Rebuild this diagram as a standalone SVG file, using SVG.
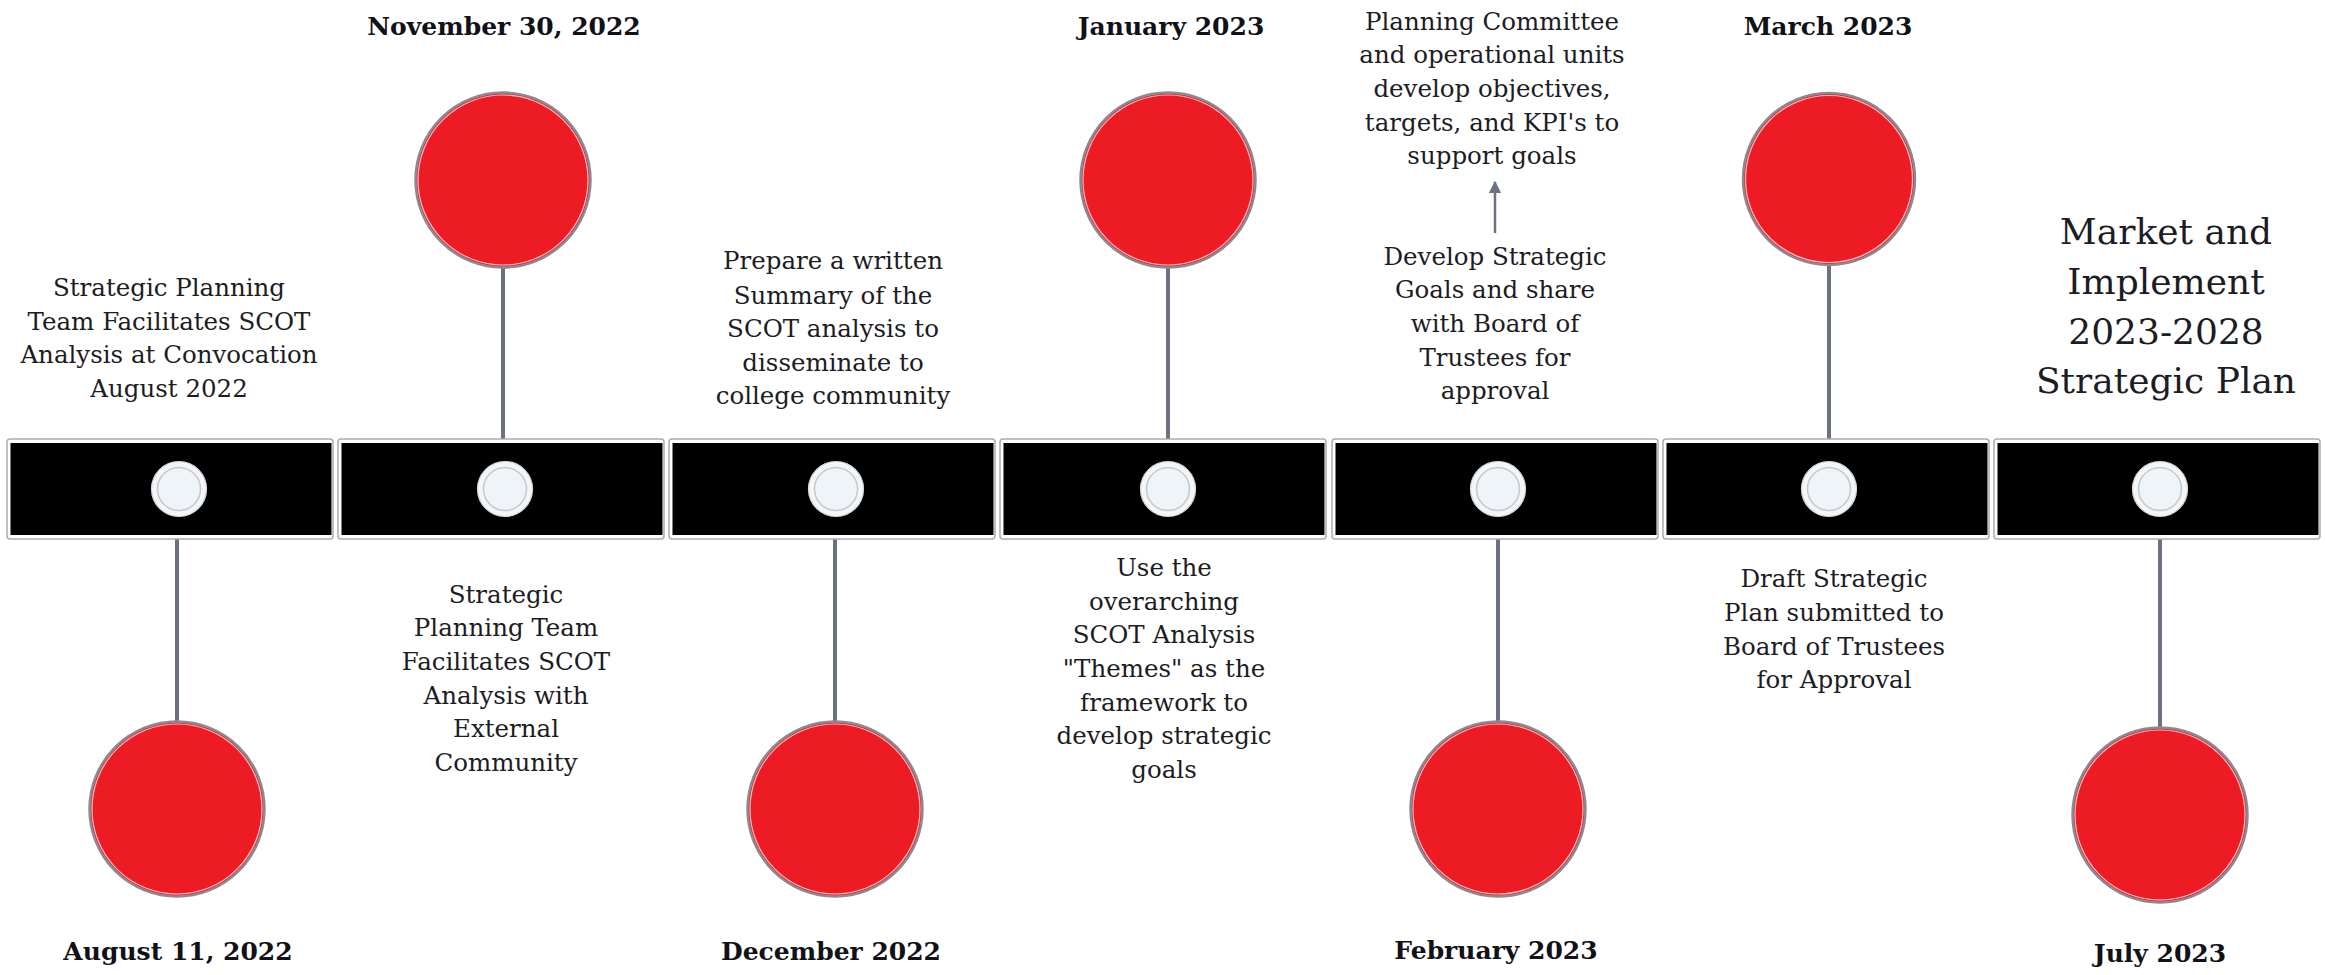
<svg xmlns="http://www.w3.org/2000/svg" width="2325" height="975" viewBox="0 0 2325 975">
<style>
.bg{fill:#ffffff}
.box{fill:#ffffff;stroke:#a8acb2;stroke-width:1.5}
.bar{fill:#000000}
.dotO{fill:#f3f5f7;stroke:#d4d6da;stroke-width:1.2}
.dotI{fill:#eef4f8;stroke:#c4c8ce;stroke-width:1.5}
.red{fill:#ed1c24;stroke:#878b94;stroke-width:2.5}
.redI{fill:none;stroke:#ffffff;stroke-width:1.2;stroke-opacity:0.7}
.stem{stroke:#6b7183;stroke-width:4;fill:none}
.arr{stroke:#6b7183;stroke-width:2.5;fill:none}
.t{font-family:"DejaVu Serif","Liberation Serif",serif;font-size:24.5px;fill:#1c1c24;text-anchor:middle}
.big{font-size:36px}
.d{font-family:"DejaVu Serif","Liberation Serif",serif;font-size:25px;font-weight:bold;fill:#111118;text-anchor:middle}
</style>
<defs>
<marker id="ah" viewBox="0 0 10 10" refX="9" refY="5" markerWidth="5" markerHeight="5" orient="auto" markerUnits="strokeWidth">
<path d="M0,0 L10,5 L0,10 z" fill="#6b7183"/>
</marker>
</defs>
<rect class="bg" x="0" y="0" width="2325" height="975"/>

<g id="connectors">
<line class="stem" x1="177" y1="539" x2="177" y2="721"/>
<line class="stem" x1="503" y1="268" x2="503" y2="439"/>
<line class="stem" x1="835" y1="539" x2="835" y2="722"/>
<line class="stem" x1="1168" y1="268" x2="1168" y2="439"/>
<line class="stem" x1="1498" y1="539" x2="1498" y2="722"/>
<line class="stem" x1="1829" y1="264" x2="1829" y2="439"/>
<line class="stem" x1="2160" y1="539" x2="2160" y2="727"/>
<line class="arr" x1="1495" y1="233" x2="1495" y2="182" marker-end="url(#ah)"/>
</g>

<g id="timeline-bar">
<g id="seg1"><rect class="box" x="7" y="439" width="326" height="100" rx="3"/><rect class="bar" x="10.5" y="443" width="321" height="92"/><circle class="dotO" cx="179" cy="489" r="27.5"/><circle class="dotI" cx="179" cy="489" r="21.5"/></g>
<g id="seg2"><rect class="box" x="338" y="439" width="326" height="100" rx="3"/><rect class="bar" x="341.5" y="443" width="321" height="92"/><circle class="dotO" cx="505" cy="489" r="27.5"/><circle class="dotI" cx="505" cy="489" r="21.5"/></g>
<g id="seg3"><rect class="box" x="669" y="439" width="326" height="100" rx="3"/><rect class="bar" x="672.5" y="443" width="321" height="92"/><circle class="dotO" cx="836" cy="489" r="27.5"/><circle class="dotI" cx="836" cy="489" r="21.5"/></g>
<g id="seg4"><rect class="box" x="1000" y="439" width="326" height="100" rx="3"/><rect class="bar" x="1003.5" y="443" width="321" height="92"/><circle class="dotO" cx="1168" cy="489" r="27.5"/><circle class="dotI" cx="1168" cy="489" r="21.5"/></g>
<g id="seg5"><rect class="box" x="1332" y="439" width="326" height="100" rx="3"/><rect class="bar" x="1335.5" y="443" width="321" height="92"/><circle class="dotO" cx="1498" cy="489" r="27.5"/><circle class="dotI" cx="1498" cy="489" r="21.5"/></g>
<g id="seg6"><rect class="box" x="1663" y="439" width="326" height="100" rx="3"/><rect class="bar" x="1666.5" y="443" width="321" height="92"/><circle class="dotO" cx="1829" cy="489" r="27.5"/><circle class="dotI" cx="1829" cy="489" r="21.5"/></g>
<g id="seg7"><rect class="box" x="1994" y="439" width="326" height="100" rx="3"/><rect class="bar" x="1997.5" y="443" width="321" height="92"/><circle class="dotO" cx="2160" cy="489" r="27.5"/><circle class="dotI" cx="2160" cy="489" r="21.5"/></g>
</g>

<g id="m1">
<circle class="red" cx="177" cy="809" r="87.5"/><circle class="redI" cx="177" cy="809" r="85"/>
<text class="d" x="178" y="960">August 11, 2022</text>
<text class="t" x="169"><tspan x="169" y="296">Strategic Planning</tspan><tspan x="169" y="330">Team Facilitates SCOT</tspan><tspan x="169" y="363">Analysis at Convocation</tspan><tspan x="169" y="397">August 2022</tspan></text>
</g>

<g id="m2">
<circle class="red" cx="503" cy="180" r="87.5"/><circle class="redI" cx="503" cy="180" r="85"/>
<text class="d" x="504" y="35">November 30, 2022</text>
<text class="t"><tspan x="506" y="603">Strategic</tspan><tspan x="506" y="636">Planning Team</tspan><tspan x="506" y="670">Facilitates SCOT</tspan><tspan x="506" y="704">Analysis with</tspan><tspan x="506" y="737">External</tspan><tspan x="506" y="771">Community</tspan></text>
</g>

<g id="m3">
<circle class="red" cx="835" cy="809" r="87.5"/><circle class="redI" cx="835" cy="809" r="85"/>
<text class="d" x="831" y="960">December 2022</text>
<text class="t"><tspan x="833" y="269">Prepare a written</tspan><tspan x="833" y="304">Summary of the</tspan><tspan x="833" y="337">SCOT analysis to</tspan><tspan x="833" y="371">disseminate to</tspan><tspan x="833" y="404">college community</tspan></text>
</g>

<g id="m4">
<circle class="red" cx="1168" cy="180" r="87.5"/><circle class="redI" cx="1168" cy="180" r="85"/>
<text class="d" x="1171" y="35">January 2023</text>
<text class="t"><tspan x="1164" y="576">Use the</tspan><tspan x="1164" y="610">overarching</tspan><tspan x="1164" y="643">SCOT Analysis</tspan><tspan x="1164" y="677">"Themes" as the</tspan><tspan x="1164" y="711">framework to</tspan><tspan x="1164" y="744">develop strategic</tspan><tspan x="1164" y="778">goals</tspan></text>
</g>

<g id="m5">
<circle class="red" cx="1498" cy="809" r="87.5"/><circle class="redI" cx="1498" cy="809" r="85"/>
<text class="d" x="1496" y="959">February 2023</text>
<text class="t"><tspan x="1492" y="30">Planning Committee</tspan><tspan x="1492" y="63">and operational units</tspan><tspan x="1492" y="97">develop objectives,</tspan><tspan x="1492" y="131">targets, and KPI's to</tspan><tspan x="1492" y="164">support goals</tspan></text>
<text class="t"><tspan x="1495" y="265">Develop Strategic</tspan><tspan x="1495" y="298">Goals and share</tspan><tspan x="1495" y="332">with Board of</tspan><tspan x="1495" y="366">Trustees for</tspan><tspan x="1495" y="399">approval</tspan></text>
</g>

<g id="m6">
<circle class="red" cx="1829" cy="179" r="86"/><circle class="redI" cx="1829" cy="179" r="83.5"/>
<text class="d" x="1828" y="35">March 2023</text>
<text class="t"><tspan x="1834" y="587">Draft Strategic</tspan><tspan x="1834" y="621">Plan submitted to</tspan><tspan x="1834" y="655">Board of Trustees</tspan><tspan x="1834" y="688">for Approval</tspan></text>
</g>

<g id="m7">
<circle class="red" cx="2160" cy="815" r="87.5"/><circle class="redI" cx="2160" cy="815" r="85"/>
<text class="d" x="2160" y="962">July 2023</text>
<text class="t big"><tspan x="2166" y="244">Market and</tspan><tspan x="2166" y="294">Implement</tspan><tspan x="2166" y="344">2023-2028</tspan><tspan x="2166" y="393">Strategic Plan</tspan></text>
</g>
</svg>
